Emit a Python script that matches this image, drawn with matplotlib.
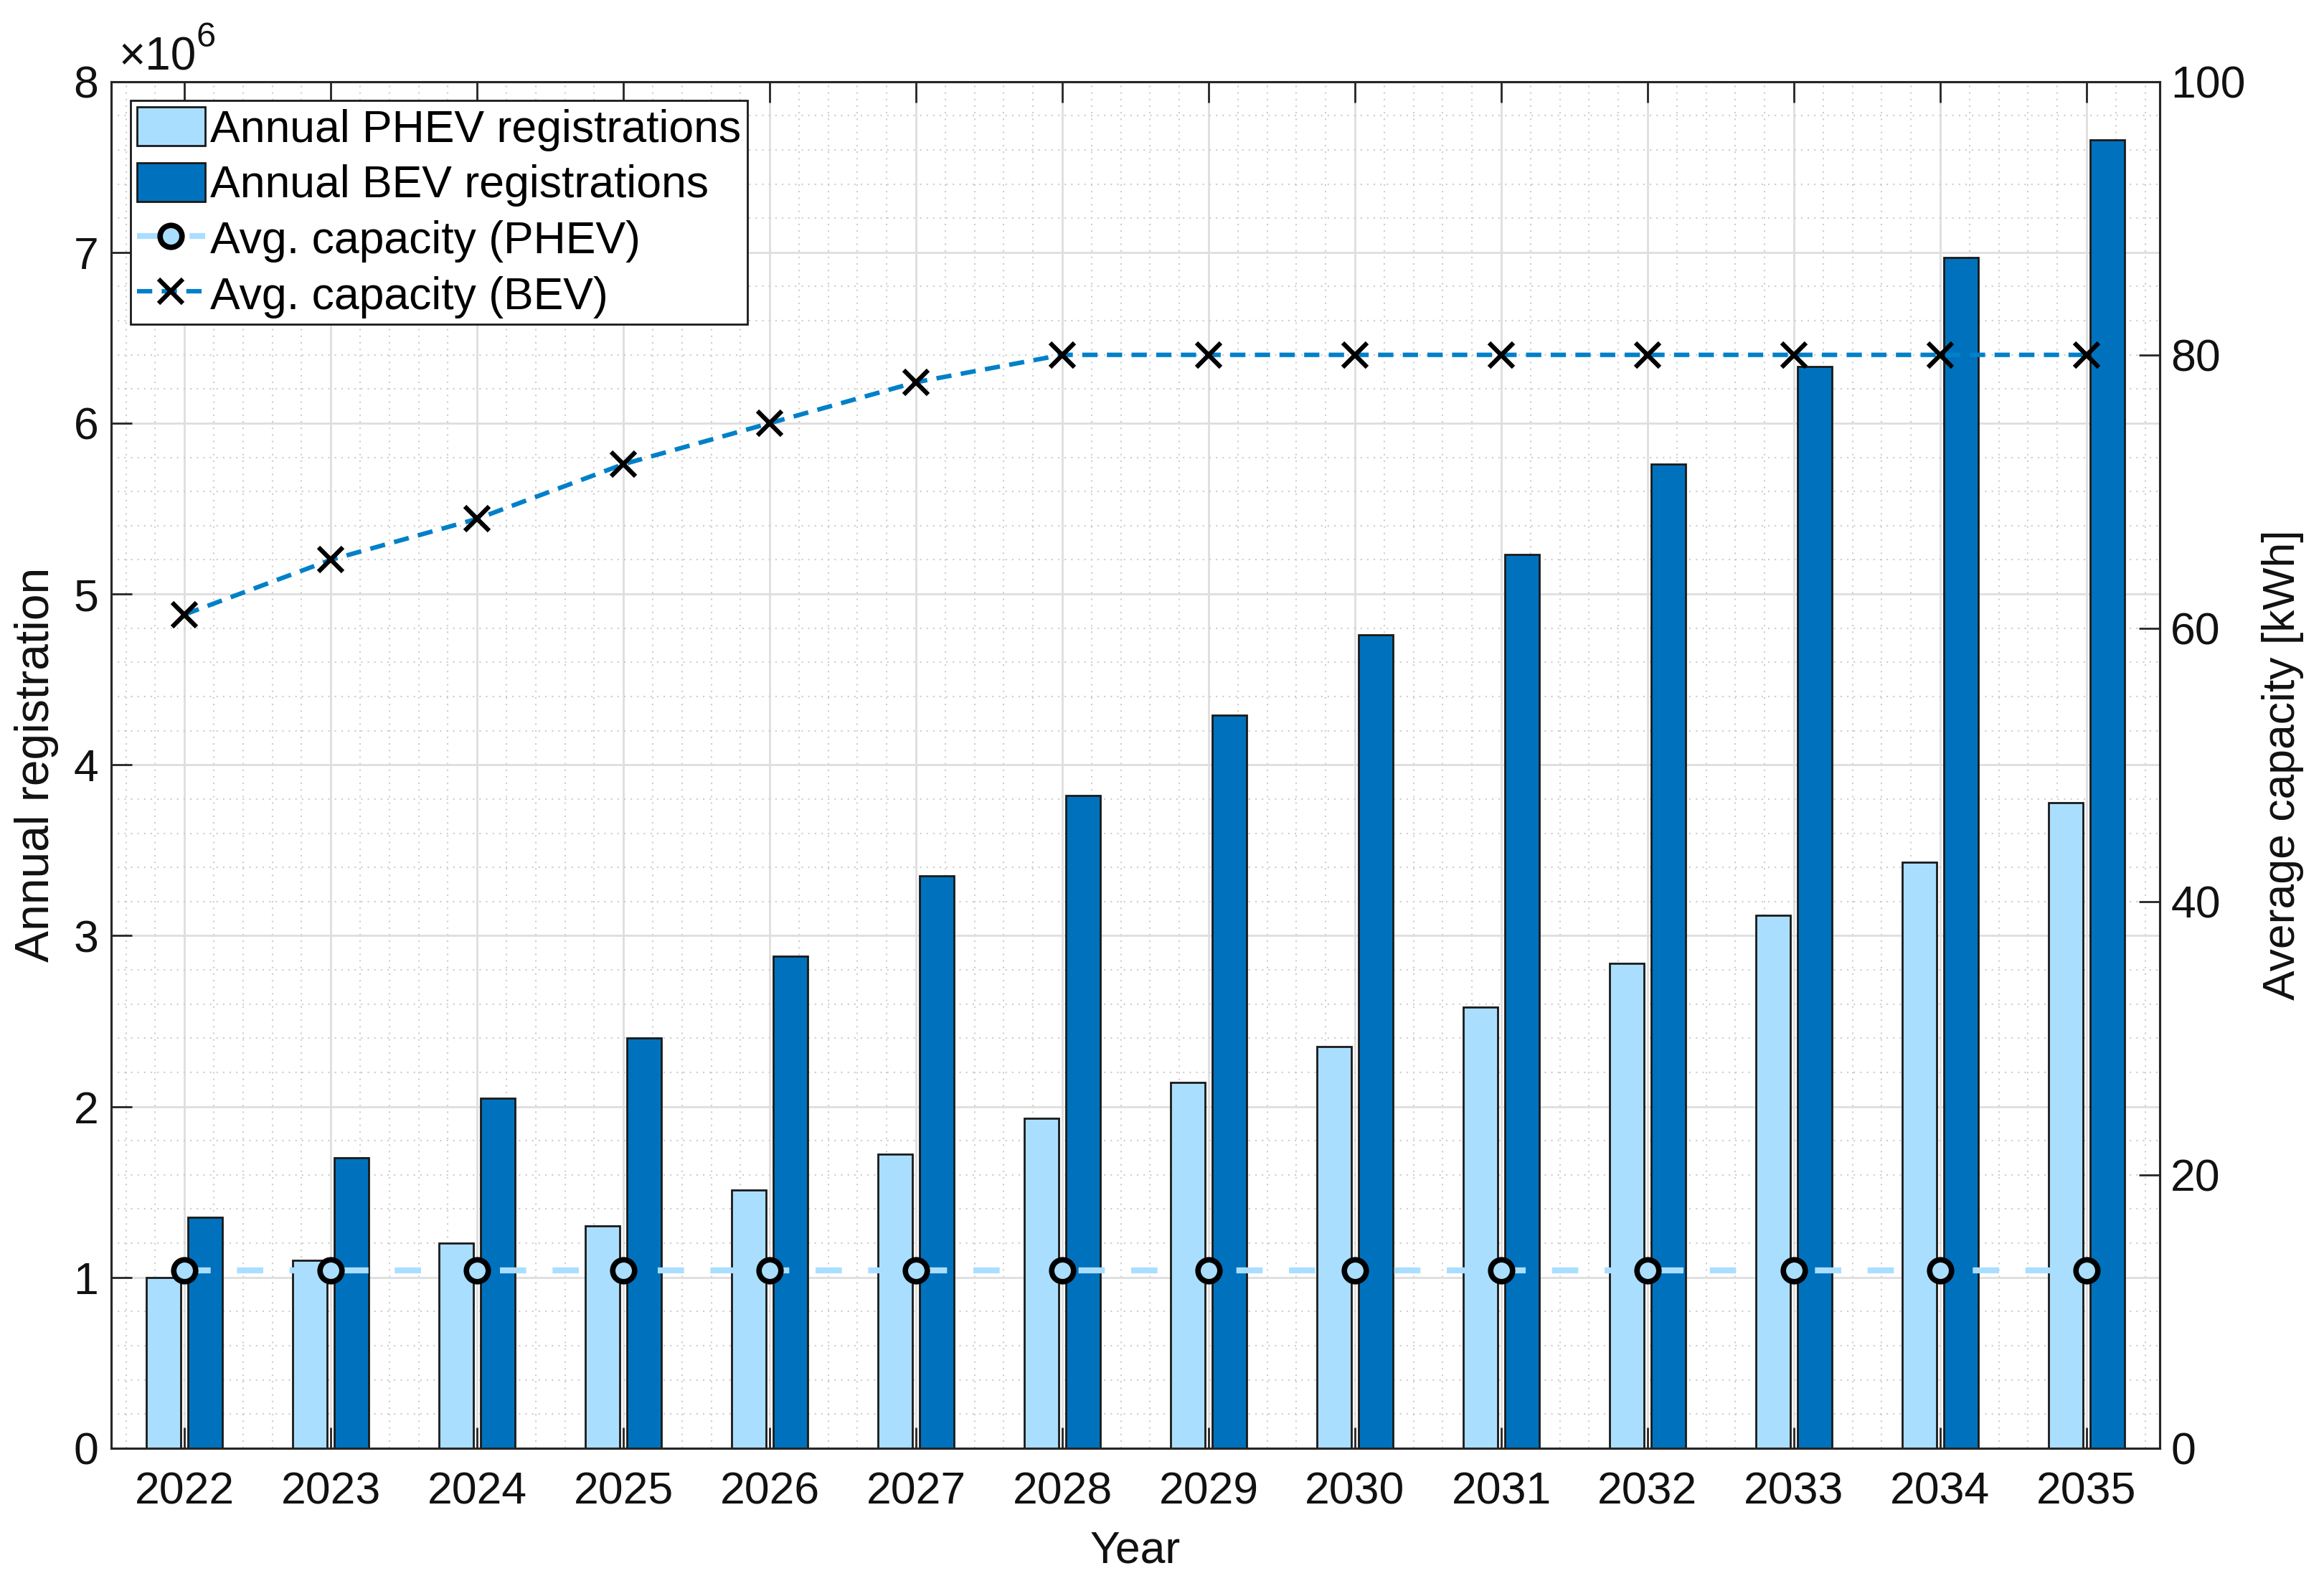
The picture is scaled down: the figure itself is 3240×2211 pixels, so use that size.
import matplotlib
matplotlib.use('Agg')
import matplotlib.pyplot as plt
from matplotlib.ticker import MultipleLocator, FuncFormatter, FixedLocator
import numpy as np

plt.rcParams['font.family'] = ['Liberation Sans', 'DejaVu Sans']

# ---------------- data ----------------
years = [2022, 2023, 2024, 2025, 2026, 2027, 2028, 2029, 2030, 2031, 2032, 2033, 2034, 2035]
phev_reg = [1.00e6, 1.10e6, 1.20e6, 1.30e6, 1.51e6, 1.72e6, 1.93e6, 2.14e6, 2.35e6,
            2.58e6, 2.84e6, 3.12e6, 3.43e6, 3.78e6]
bev_reg = [1.35e6, 1.70e6, 2.05e6, 2.40e6, 2.88e6, 3.35e6, 3.82e6, 4.29e6, 4.76e6,
           5.23e6, 5.76e6, 6.33e6, 6.97e6, 7.66e6]
phev_cap = [13, 13, 13, 13, 13, 13, 13, 13, 13, 13, 13, 13, 13, 13]
bev_cap = [61, 65, 68, 72, 75, 78, 80, 80, 80, 80, 80, 80, 80, 80]
left_ticks = [0, 1e6, 2e6, 3e6, 4e6, 5e6, 6e6, 7e6, 8e6]
right_ticks = [0, 20, 40, 60, 80, 100]

labels = ['Annual PHEV registrations', 'Annual BEV registrations',
          'Avg. capacity (PHEV)', 'Avg. capacity (BEV)']

# ---------------- styles ----------------
LIGHT = '#AADEFF'
DARK = '#0072BD'
LINEBLUE = '#0080C8'
EDGE = '#1a1a1a'
AXC = '#262626'
TXT = '#111111'
FS = 45

fig = plt.figure(figsize=(32.4, 22.11), dpi=100)
ax = fig.add_axes([0.0479, 0.0869, 0.8814, 0.8617])

x = np.array(years, dtype=float)
b1 = ax.bar(x - 0.142, phev_reg, width=0.236, color=LIGHT, edgecolor=EDGE, linewidth=2, zorder=3)
b2 = ax.bar(x + 0.142, bev_reg, width=0.236, color=DARK, edgecolor=EDGE, linewidth=2, zorder=3)

ax.set_xlim(2021.5, 2035.5)
ax.set_ylim(0, 8e6)
ax.xaxis.set_major_locator(FixedLocator(years))
ax.xaxis.set_minor_locator(MultipleLocator(0.2))
ax.yaxis.set_major_locator(FixedLocator(left_ticks))
ax.yaxis.set_minor_locator(MultipleLocator(2e5))
ax.xaxis.set_major_formatter(FuncFormatter(lambda v, p: f'{int(round(v))}'))
ax.yaxis.set_major_formatter(FuncFormatter(lambda v, p: f'{v/1e6:g}'))

ax.set_axisbelow(True)
ax.grid(which='major', color='#dedede', linewidth=2.0, linestyle='-')
ax.grid(which='minor', color='#cdcdcd', linewidth=1.5, linestyle=(0, (1.0, 3.4)))

ax.tick_params(which='major', direction='in', length=21, width=2, color=AXC,
               labelsize=FS, labelcolor=TXT, top=True, bottom=True, left=True, right=False)
ax.tick_params(which='minor', length=0, top=False, bottom=False, left=False, right=False)
ax.tick_params(axis='x', pad=23)
ax.tick_params(axis='y', pad=13)
for s in ax.spines.values():
    s.set_color(AXC)
    s.set_linewidth(2.2)

ax.set_ylabel('Annual registration', fontsize=47.5, color=TXT)
ax.yaxis.set_label_coords(-0.0255, 0.5)
ax.set_xlabel('Year', fontsize=FS, color=TXT)
ax.xaxis.set_label_coords(0.5, -0.0597)

# scale factor annotation (x10^6)
ax.text(0.0036, 1.0085, '\u00d710', transform=ax.transAxes, fontsize=46,
        color=TXT, ha='left', va='baseline')
ax.text(0.0415, 1.0255, '6', transform=ax.transAxes, fontsize=35,
        color=TXT, ha='left', va='baseline')

ax2 = ax.twinx()
ax2.set_ylim(0, 100)
ax2.yaxis.set_major_locator(FixedLocator(right_ticks))
ax2.tick_params(which='major', direction='in', length=21, width=2, color=AXC,
                labelsize=FS, labelcolor=TXT, pad=11, right=True, left=False)
ax2.tick_params(which='minor', length=0)
for s in ax2.spines.values():
    s.set_color(AXC)
    s.set_linewidth(2.2)

l1, = ax2.plot(years, phev_cap, linestyle='--', dashes=(4.4, 4.4), color=LIGHT, linewidth=6,
               marker='o', markersize=22, markerfacecolor=LIGHT, markeredgecolor='black',
               markeredgewidth=5.5, zorder=4)
l2, = ax2.plot(years, bev_cap, linestyle='--', dashes=(3.4, 2.1), color=LINEBLUE, linewidth=4.5,
               marker='x', markersize=24, markeredgecolor='black', markeredgewidth=4.5, zorder=4)

ax2.set_ylabel('Average capacity [kWh]', fontsize=45, color=TXT)
ax2.yaxis.set_label_coords(1.0499, 0.5)

leg = ax2.legend([b1, b2, l1, l2], labels, loc='upper left', bbox_to_anchor=(0.0094, 0.986),
                 borderaxespad=0, fontsize=FS, frameon=True, fancybox=False,
                 edgecolor=EDGE, framealpha=1, handlelength=1.52, handletextpad=0.12,
                 borderpad=0.14, labelspacing=0.26, handleheight=0.95)
leg.get_frame().set_linewidth(2)
leg.set_zorder(10)

fig.savefig('out.png', dpi=100)
